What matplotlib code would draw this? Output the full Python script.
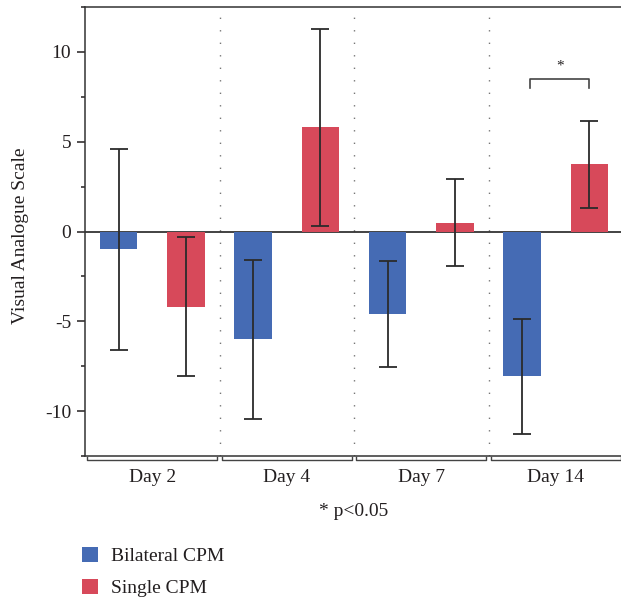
import matplotlib
matplotlib.use("Agg")
import matplotlib.pyplot as plt
from matplotlib.patches import Patch
from matplotlib.ticker import MultipleLocator

plt.rcParams['font.family'] = ['Liberation Serif', 'DejaVu Serif']
plt.rcParams['axes.unicode_minus'] = False

# data
days = ["Day 2", "Day 4", "Day 7", "Day 14"]
bilateral_mean = [-1.0, -6.0, -4.6, -8.05]
bilateral_err = [5.6, 4.42, 2.95, 3.2]
single_mean = [-4.2, 5.8, 0.5, 3.75]
single_err = [3.87, 5.5, 2.4, 2.42]
series_names = ["Bilateral CPM", "Single CPM"]

BLUE = "#456BB4"
RED = "#D7495A"
TXT = "#231F20"
EBC = "#2b2b2b"

W, H = 621, 597
fig = plt.figure(figsize=(W / 100, H / 100), dpi=100)
ax = fig.add_axes([85 / W, 1 - 456 / H, (623 - 85) / W, (456 - 7) / H])

centers = [i + 0.5 for i in range(len(days))]
off = 0.25
bw = 0.28

ax.axhline(0, color="#222222", lw=1.2, zorder=1)
ax.bar([c - off for c in centers], bilateral_mean, bw, color=BLUE, zorder=2)
ax.bar([c + off for c in centers], single_mean, bw, color=RED, zorder=2)
ax.errorbar([c - off for c in centers], bilateral_mean, yerr=bilateral_err,
            fmt="none", ecolor=EBC, elinewidth=1.3, capsize=6.5, capthick=1.3, zorder=3)
ax.errorbar([c + off for c in centers], single_mean, yerr=single_err,
            fmt="none", ecolor=EBC, elinewidth=1.3, capsize=6.5, capthick=1.3, zorder=3)

# dotted separators between days
for i in range(1, len(days)):
    ax.axvline(i, color="#777777", lw=1.0, ls=(0, (1, 8)), zorder=0)

ax.set_xlim(0, len(days))
ax.set_ylim(-12.5, 12.5)
ax.yaxis.set_major_locator(MultipleLocator(5))
ax.yaxis.set_minor_locator(MultipleLocator(2.5))
ax.tick_params(axis="y", which="major", length=6, width=1.1, colors=TXT, labelsize=14, pad=4)
ax.tick_params(axis="y", which="minor", length=3, width=1.1, colors=TXT)
ax.set_xticks(centers)
ax.set_xticklabels(days)
ax.tick_params(axis="x", length=0, labelsize=14, pad=9, colors=TXT)
ax.set_ylabel("Visual Analogue Scale", fontsize=14, color=TXT)
ax.yaxis.set_label_coords(-0.105, 0.49)

for side in ["left", "bottom", "top", "right"]:
    ax.spines[side].set_linewidth(1.1)
    ax.spines[side].set_color("#333333")

# bracket-style category markers under the axis
xt = ax.get_xaxis_transform()
for i in range(len(days)):
    x0, x1 = i + 0.015, i + 1 - 0.015
    ax.plot([x0, x0, x1, x1], [-0.003, -0.008, -0.008, -0.003], color="#444444",
            lw=1.0, transform=xt, clip_on=False)

# significance marker on Day 14
bx0, bx1 = 3.31, 3.747
ax.plot([bx0, bx0, bx1, bx1], [8.0, 8.47, 8.47, 8.0], color="#444444", lw=1.2)
ax.text((bx0 + bx1) / 2, 9.2, "*", ha="center", va="center", fontsize=11, color=TXT)

fig.text(354 / W, 1 - 512 / H, "* p<0.05", ha="center", va="center", fontsize=14, color=TXT)

handles = [Patch(facecolor=BLUE, edgecolor="none"), Patch(facecolor=RED, edgecolor="none")]
fig.legend(handles, series_names, loc="upper left", bbox_to_anchor=(82 / W, 1 - 547 / H),
           frameon=False, fontsize=14, handlelength=0.82, handleheight=0.82,
           handletextpad=0.65, labelspacing=0.68, borderpad=0, borderaxespad=0,
           labelcolor=TXT)

fig.savefig("out.png", dpi=100)
